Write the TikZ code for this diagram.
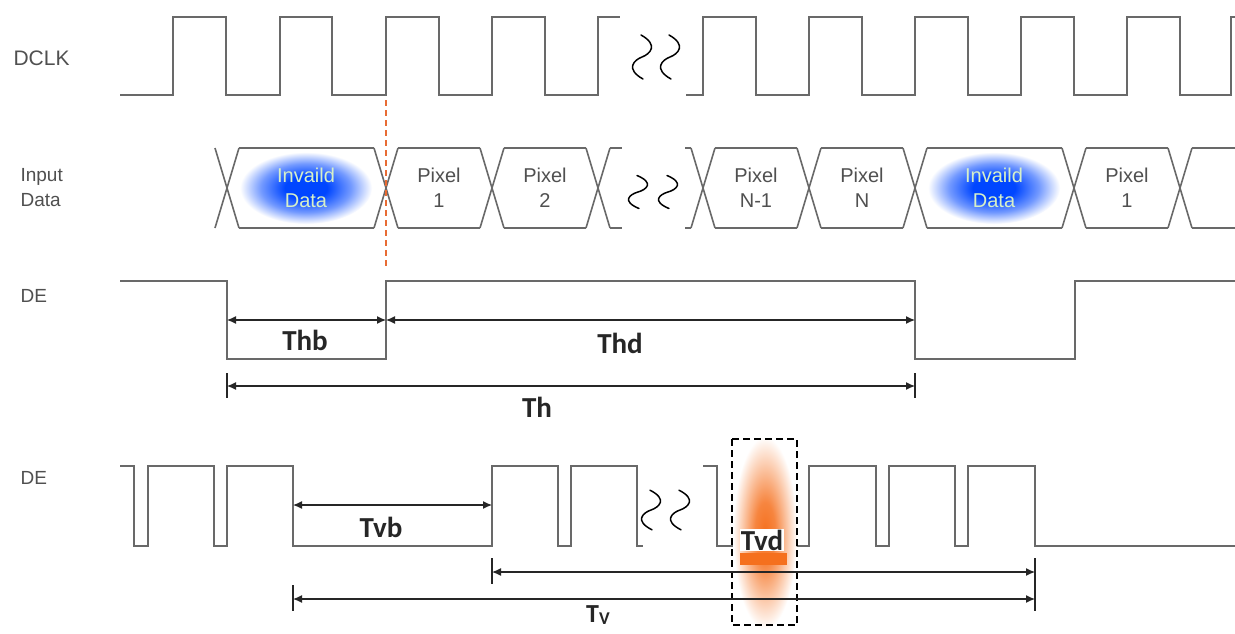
\documentclass[tikz,border=0pt]{standalone}
\usepackage{fontspec}
\setmainfont{Liberation Sans}
\newfontfamily\calfont{Carlito}
\usetikzlibrary{arrows.meta}

\definecolor{sigcol}{RGB}{105,105,105}
\definecolor{labcol}{RGB}{80,80,80}
\definecolor{glowblue}{RGB}{0,70,255}
\definecolor{gloworange}{RGB}{245,112,30}
\definecolor{cutorange}{RGB}{232,108,52}
\definecolor{paletext}{RGB}{215,240,200}

\pgfdeclareradialshading{blueglow}{\pgfpoint{0bp}{0bp}}{color(0bp)=(glowblue); color(8bp)=(glowblue); color(17bp)=(glowblue!55!white); color(25bp)=(white); color(50bp)=(white)}
\pgfdeclareradialshading{orangeglow}{\pgfpoint{0bp}{0bp}}{color(0bp)=(gloworange); color(8bp)=(gloworange!85!white); color(17bp)=(gloworange!40!white); color(25bp)=(white); color(50bp)=(white)}

\tikzset{
  sigline/.style={draw=sigcol, line width=1.6pt},
  dimline/.style={draw=black!85, line width=1.2pt},
  dimarrow/.style={dimline, {Latex[length=9pt,width=8pt]}-{Latex[length=9pt,width=8pt]}},
  sigtext/.style={text=labcol, anchor=west, align=left, font=\fontsize{19}{25}\selectfont},
  celltext/.style={text=labcol, align=center, font=\fontsize{20}{25}\selectfont},
  badtext/.style={celltext, text=paletext},
  timetext/.style={text=black!85, font=\calfont\bfseries\fontsize{29}{30}\selectfont},
  squigline/.style={draw=black, line width=1.5pt, line cap=round},
  squig/.pic={\draw[squigline] (-1,-22) .. controls (17,-12) and (8,-3) .. (0,0) .. controls (-8,3) and (-17,12) .. (1,22);}
}

\begin{document}
\begin{tikzpicture}[x=1pt,y=-1pt]
    \fill[white] (0,0) rectangle (1235,633);
    \useasboundingbox (0,0) rectangle (1235,633);

    % signal names
    \node[sigtext, font=\fontsize{21}{25}\selectfont] (dclkname) at (10,58) {DCLK};
    \node[sigtext] (dataname) at (17,188) {Input\\Data};
    \node[sigtext] (dename) at (17,296) {DE};
    \node[sigtext] (vdename) at (17,478) {DE};

    % DCLK
    \draw[sigline] (120,95) -| (173,17) -| (226,95) -| (280,17) -| (332,95) -| (386,17) -| (439,95) -| (492,17) -| (545,95) -| (598,17) -- (620,17);
    \draw[sigline] (686,95) -| (703,17) -| (756,95) -| (809,17) -| (862,95) -| (915,17) -| (968,95) -| (1021,17) -| (1074,95) -| (1127,17) -| (1180,95) -| (1231,17) -- (1235,17);
    \pic at (642,57) {squig};
    \pic at (670,57) {squig};

    % Input Data
    \shade[shading=blueglow] (306,188) ellipse [x radius=66pt, y radius=36pt];
    \shade[shading=blueglow] (994,188) ellipse [x radius=66pt, y radius=36pt];
    \foreach \cx in {227,386,492,598,703,809,915,1074,1180}
      \draw[sigline] (\cx-12,148) -- (\cx+12,228) (\cx-12,228) -- (\cx+12,148);
    \draw[sigline] (239,148) -- (374,148) (239,228) -- (374,228);
    \draw[sigline] (398,148) -- (480,148) (398,228) -- (480,228);
    \draw[sigline] (504,148) -- (586,148) (504,228) -- (586,228);
    \draw[sigline] (610,148) -- (622,148) (610,228) -- (622,228);
    \draw[sigline] (685,148) -- (691,148) (685,228) -- (691,228);
    \draw[sigline] (715,148) -- (797,148) (715,228) -- (797,228);
    \draw[sigline] (821,148) -- (903,148) (821,228) -- (903,228);
    \draw[sigline] (927,148) -- (1062,148) (927,228) -- (1062,228);
    \draw[sigline] (1086,148) -- (1168,148) (1086,228) -- (1168,228);
    \draw[sigline] (1192,148) -- (1235,148) (1192,228) -- (1235,228);
    \node[badtext] (bad1) at (306,188) {Invaild\\Data};
    \node[celltext] (pix1) at (439,188) {Pixel\\1};
    \node[celltext] (pix2) at (545,188) {Pixel\\2};
    \node[celltext] (pixm) at (756,188) {Pixel\\N-1};
    \node[celltext] (pixn) at (862,188) {Pixel\\N};
    \node[badtext] (bad2) at (994,188) {Invaild\\Data};
    \node[celltext] (pixa) at (1127,188) {Pixel\\1};
    \pic[yscale=0.75] at (638,192) {squig};
    \pic[yscale=0.75] at (668,192) {squig};

    % start of active line
    \coordinate (cuttop) at (386,100);
    \coordinate (cutbot) at (386,268);
    \draw[draw=cutorange, line width=1.6pt, dash pattern=on 6pt off 4pt] (cuttop) -- (cutbot);

    % DE, one line
    \draw[sigline] (120,281) -| (227,359) -| (386,281) -| (915,359) -| (1075,281) -- (1235,281);
    \coordinate (hb) at (227,320);
    \coordinate (hd) at (386,320);
    \coordinate (he) at (915,320);
    \coordinate (ha) at (227,386);
    \coordinate (hz) at (915,386);
    \draw[dimarrow] (hb) -- (hd);
    \draw[dimarrow] (hd) -- (he);
    \draw[dimarrow] (ha) -- (hz);
    \draw[dimline] (227,373) -- (227,398) (915,373) -- (915,398);
    \node[timetext] (thb) at (305,340) {Thb};
    \node[timetext] (thd) at (620,343) {Thd};
    \node[timetext] (th) at (537,407) {Th};

    % DE, one frame
    \draw[sigline] (120,466) -| (134,546) -| (148,466) -| (214,546) -| (227,466) -| (293,546) -| (492,466) -| (558,546) -| (571,466) -| (637,546) -- (643,546);
    \draw[sigline] (703,466) -| (717,546) -| (809,466) -| (876,546) -| (889,466) -| (955,546) -| (968,466) -| (1035,546) -- (1235,546);
    \pic[yscale=0.9] at (651,510) {squig};
    \pic[yscale=0.9] at (680,510) {squig};
    \shade[shading=orangeglow] (765,533) ellipse [x radius=32pt, y radius=96pt];
    \fill[gloworange] (740,553) rectangle (787,565);
    \node[timetext, fill=white, inner sep=1pt] (tvd) at (762,540) {Tvd};
    \draw[black, line width=2pt, dash pattern=on 7pt off 4pt] (732,439) rectangle (797,625);
    \coordinate (vb) at (293,505);
    \coordinate (vd) at (492,505);
    \coordinate (va) at (492,572);
    \coordinate (vz) at (1035,572);
    \coordinate (wa) at (293,599);
    \coordinate (wz) at (1035,599);
    \draw[dimarrow] (vb) -- (vd);
    \draw[dimarrow] (va) -- (vz);
    \draw[dimarrow] (wa) -- (wz);
    \draw[dimline] (492,558) -- (492,584) (293,585) -- (293,611) (1035,558) -- (1035,611);
    \node[timetext] (tvb) at (381,527) {Tvb};
    \node[timetext, font=\calfont\bfseries\fontsize{26}{28}\selectfont] (tv) at (598,615) {T{\fontsize{18}{18}\selectfont\raisebox{-1.5pt}{V}}};
\end{tikzpicture}
\end{document}
